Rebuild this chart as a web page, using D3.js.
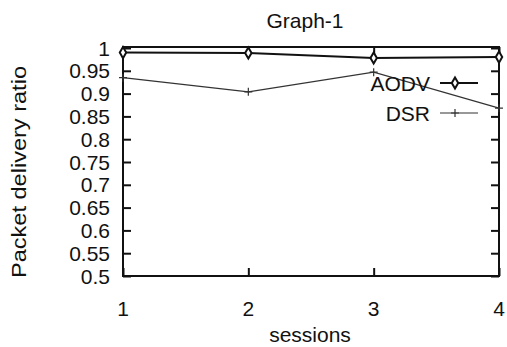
<!DOCTYPE html>
<html>
<head>
<meta charset="utf-8">
<script src="https://cdn.jsdelivr.net/npm/d3@7"></script>
<style>
  body { margin: 0; background: #fff; }
  svg { display: block; font-family: "Liberation Sans", Arial, sans-serif; }
</style>
</head>
<body>
<div id="chart"></div>
<script>
// data
const sessions = [1, 2, 3, 4];
const aodv = [0.990, 0.989, 0.978, 0.980];
const dsr = [0.935, 0.904, 0.947, 0.868];
const yTicks = [0.5, 0.55, 0.6, 0.65, 0.7, 0.75, 0.8, 0.85, 0.9, 0.95, 1];
const seriesNames = ['AODV', 'DSR'];

const width = 507, height = 347;
const plot = { left: 123, right: 499, top: 47, bottom: 276 };
const fontSize = 21;

const svg = d3.select('#chart').append('svg')
    .attr('width', width)
    .attr('height', height);

const x = d3.scaleLinear().domain([1, 4]).range([plot.left, plot.right]);
const y = d3.scaleLinear().domain([0.5, 1]).range([plot.bottom, plot.top + 1]);

// axes with inward ticks, mirrored on all sides
svg.append('g')
    .attr('transform', `translate(${plot.left},0)`)
    .call(d3.axisRight(y).tickValues(yTicks).tickSize(8).tickFormat(''))
    .call(g => g.select('.domain').remove());

svg.append('g')
    .attr('transform', `translate(${plot.right},0)`)
    .call(d3.axisLeft(y).tickValues(yTicks).tickSize(8).tickFormat(''))
    .call(g => g.select('.domain').remove());

svg.append('g')
    .attr('transform', `translate(0,${plot.bottom})`)
    .call(d3.axisTop(x).tickValues(sessions).tickSize(8).tickFormat(''))
    .call(g => g.select('.domain').remove());

svg.append('g')
    .attr('transform', `translate(0,${plot.top})`)
    .call(d3.axisBottom(x).tickValues(sessions).tickSize(8).tickFormat(''))
    .call(g => g.select('.domain').remove());

svg.selectAll('.tick line').attr('stroke', '#111').attr('stroke-width', 2);

// frame
svg.append('rect')
    .attr('x', plot.left).attr('y', plot.top)
    .attr('width', plot.right - plot.left).attr('height', plot.bottom - plot.top)
    .attr('fill', 'none').attr('stroke', '#111').attr('stroke-width', 2);

// tick labels
svg.append('g').selectAll('text')
    .data(yTicks)
    .join('text')
    .attr('x', 110)
    .attr('y', d => y(d))
    .attr('dy', '0.36em')
    .attr('text-anchor', 'end')
    .attr('font-size', fontSize)
    .attr('fill', '#111')
    .text(d => d3.format('')(d));

svg.append('g').selectAll('text')
    .data(sessions)
    .join('text')
    .attr('x', d => x(d))
    .attr('y', 316)
    .attr('text-anchor', 'middle')
    .attr('font-size', fontSize)
    .attr('fill', '#111')
    .text(d => d);

// titles
svg.append('text')
    .attr('x', 305).attr('y', 28)
    .attr('text-anchor', 'middle')
    .attr('font-size', fontSize)
    .attr('fill', '#111')
    .text('Graph-1');

svg.append('text')
    .attr('x', 310).attr('y', 342)
    .attr('text-anchor', 'middle')
    .attr('font-size', fontSize)
    .attr('fill', '#111')
    .text('sessions');

svg.append('text')
    .attr('transform', `translate(26,172) rotate(-90)`)
    .attr('text-anchor', 'middle')
    .attr('font-size', fontSize)
    .attr('textLength', 212)
    .attr('lengthAdjust', 'spacingAndGlyphs')
    .attr('fill', '#111')
    .text('Packet delivery ratio');

// series
const line = d3.line()
    .x((d, i) => x(sessions[i]))
    .y(d => y(d));

svg.append('path')
    .datum(dsr)
    .attr('fill', 'none')
    .attr('stroke', '#333')
    .attr('stroke-width', 1.2)
    .attr('d', line);

svg.append('g').selectAll('path')
    .data(dsr)
    .join('path')
    .attr('d', (d, i) => `M${x(sessions[i]) - 4},${y(d)}h8M${x(sessions[i])},${y(d) - 4}v8`)
    .attr('stroke', '#333')
    .attr('stroke-width', 1.2);

svg.append('path')
    .datum(aodv)
    .attr('fill', 'none')
    .attr('stroke', '#111')
    .attr('stroke-width', 2)
    .attr('d', line);

svg.append('g').selectAll('path')
    .data(aodv)
    .join('path')
    .attr('d', d3.symbol(d3.symbolDiamond, 36))
    .attr('transform', (d, i) => `translate(${x(sessions[i])},${y(d)})`)
    .attr('fill', '#fff')
    .attr('stroke', '#111')
    .attr('stroke-width', 2);

// legend
const legend = svg.append('g').attr('class', 'legend');
const legendY = [83, 113];
const sample = { x1: 440, x2: 478, mid: 455 };

legend.selectAll('text')
    .data(seriesNames)
    .join('text')
    .attr('x', 430)
    .attr('y', (d, i) => legendY[i])
    .attr('dy', '0.36em')
    .attr('text-anchor', 'end')
    .attr('font-size', fontSize)
    .attr('fill', '#111')
    .text(d => d);

legend.append('line')
    .attr('x1', sample.x1).attr('x2', sample.x2)
    .attr('y1', legendY[0]).attr('y2', legendY[0])
    .attr('stroke', '#111').attr('stroke-width', 2);
legend.append('path')
    .attr('d', d3.symbol(d3.symbolDiamond, 36))
    .attr('transform', `translate(${sample.mid},${legendY[0]})`)
    .attr('fill', '#fff').attr('stroke', '#111').attr('stroke-width', 2);

legend.append('line')
    .attr('x1', sample.x1).attr('x2', sample.x2)
    .attr('y1', legendY[1]).attr('y2', legendY[1])
    .attr('stroke', '#333').attr('stroke-width', 1.2);
legend.append('path')
    .attr('d', `M${sample.mid - 4},${legendY[1]}h8M${sample.mid},${legendY[1] - 4}v8`)
    .attr('stroke', '#333').attr('stroke-width', 1.2);
</script>
</body>
</html>
